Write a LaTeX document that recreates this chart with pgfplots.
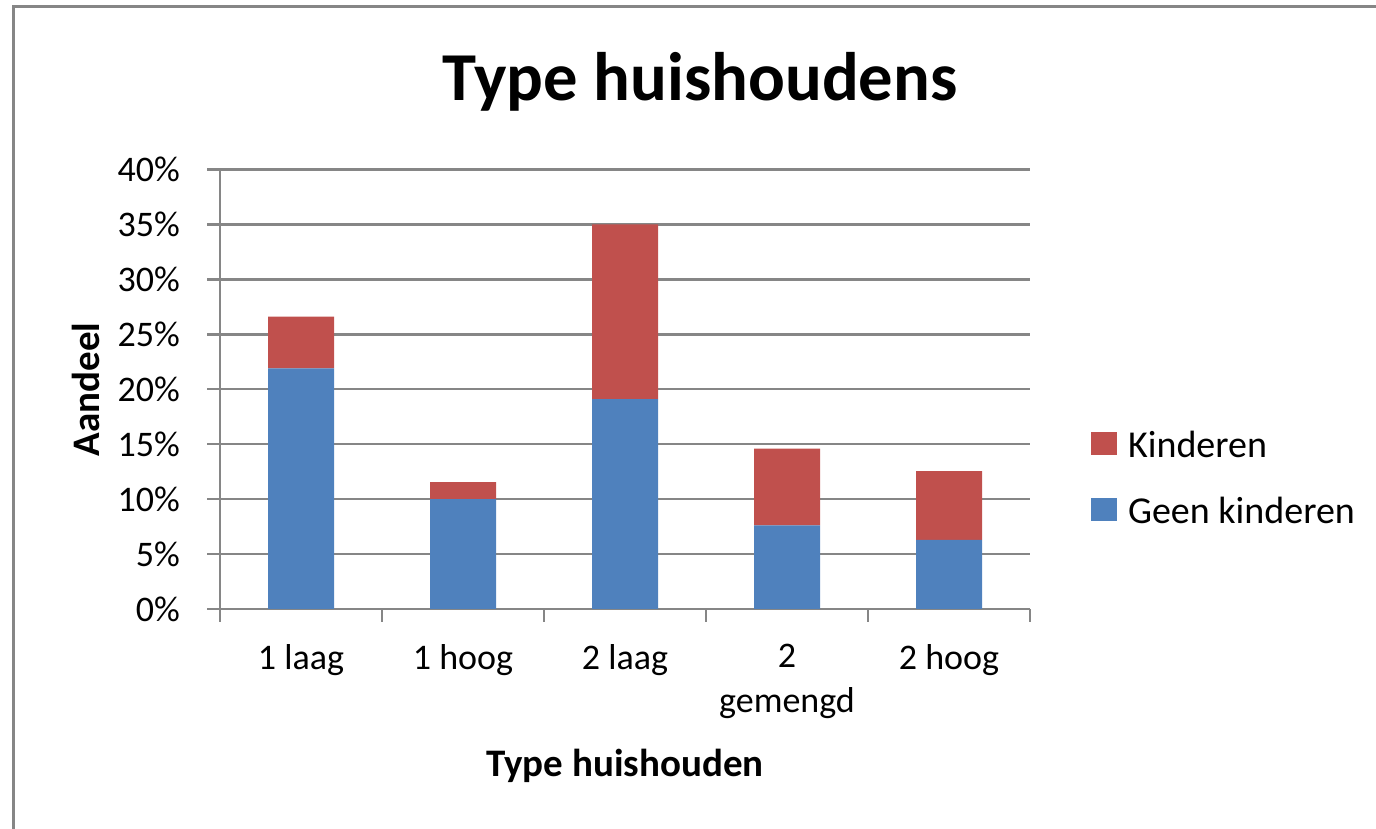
\documentclass[border=0pt]{standalone}
\usepackage{fontspec}
\setmainfont{Carlito}
\usepackage{pgfplots}
\pgfplotsset{compat=1.18}
\definecolor{barblue}{HTML}{4F81BD}
\definecolor{barred}{HTML}{C0504D}
\definecolor{gridgray}{HTML}{868686}
\begin{document}
\begin{tikzpicture}
\useasboundingbox (0,0) rectangle (688pt,414.5pt);
\draw[gridgray, line width=1.5pt] (6.5pt,0) -- (6.5pt,411pt) -- (688pt,411pt);
\node[anchor=base, font=\fontsize{34.3}{40}\selectfont\bfseries, inner sep=0pt] at (350pt,364pt) {Type huishoudens};
\begin{axis}[
  at={(110pt,110pt)}, anchor=south west,
  scale only axis, width=405pt, height=219.75pt,
  xmin=-0.5, xmax=4.5, ymin=0, ymax=40,
  ybar stacked, bar width=33pt,
  axis x line*=bottom, axis y line*=left,
  axis line style={gridgray, line width=1.3pt, -},
  xtick={-0.5,0.5,1.5,2.5,3.5,4.5}, xticklabels={},
  extra x ticks={0,1,2,3,4},
  extra x tick labels={1 laag,1 hoog,2 laag,2\\gemengd,2 hoog},
  extra x tick style={major tick length=0pt},
  ytick={0,5,...,40},
  yticklabel={\pgfmathprintnumber{\tick}\%},
  /pgf/number format/assume math mode=true,
  tick align=outside, major tick length=6.5pt,
  tick style={gridgray, line width=1.2pt},
  ymajorgrids, grid style={gridgray, line width=1.2pt},
  ticklabel style={font=\fontsize{18}{22.5}\selectfont},
  x tick label style={align=center, yshift=-14pt},
  y tick label style={xshift=-10pt},
  xlabel={Type huishouden},
  xlabel style={at={(axis description cs:0.5,-0.382)}, anchor=base, font=\fontsize{19.5}{23}\selectfont\bfseries},
  ylabel={Aandeel},
  ylabel style={at={(axis description cs:-0.1654,0.5)}, anchor=center, font=\fontsize{19.5}{23}\selectfont\bfseries},
  legend style={draw=none, fill=none, at={(axis description cs:1.0675,0.296)}, anchor=west,
    font=\fontsize{19}{22}\selectfont, row sep=14pt,
    nodes={inner xsep=5.5pt}},
  legend cell align=left,
  reverse legend,
  legend image code/.code={\fill[#1] (0pt,-4.5pt) rectangle (13pt,7pt);},
]
\addplot[fill=barblue, draw=none] coordinates {(0,21.9) (1,10.0) (2,19.1) (3,7.6) (4,6.3)};
\addlegendentry{Geen kinderen}
\addplot[fill=barred, draw=none] coordinates {(0,4.7) (1,1.55) (2,15.9) (3,7.0) (4,6.25)};
\addlegendentry{Kinderen}
\end{axis}
\end{tikzpicture}
\end{document}
